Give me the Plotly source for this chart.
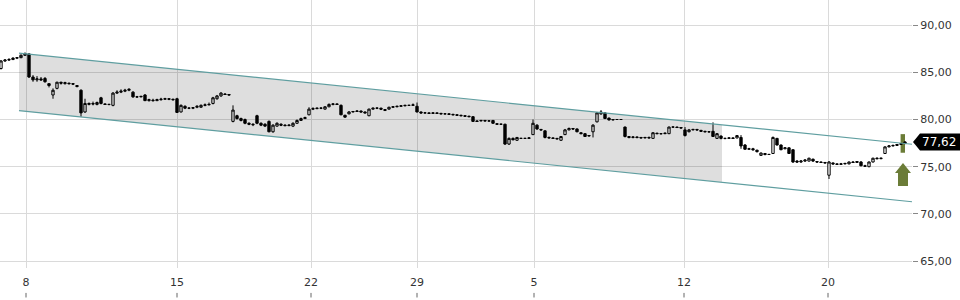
import plotly.graph_objects as go

# ---- candle data (index-based x, one entry per candle) ----
opens = [85.4, 86.2, 86.3, 86.35, 86.5, 86.55, 86.8, 86.95, 84.5, 84.2,
         84.3, 84.35, 83.8, 82.6, 83.3, 83.95, 83.8, 83.85, 83.8, 83.6,
         83.1, 80.8, 81.6, 81.7, 81.6, 82.3, 81.65, 81.6, 81.5, 82.8,
         82.9, 83.0, 83.1, 82.9, 82.4, 82.4, 82.6, 82.0, 82.05, 82.0,
         82.1, 82.15, 82.2, 82.15, 82.2, 80.8, 81.4, 81.2, 81.2, 81.3,
         81.3, 81.5, 81.55, 81.7, 82.2, 82.5, 82.7, 82.65, 79.8, 80.4,
         80.1, 80.0, 79.6, 79.5, 80.4, 79.6, 79.5, 79.8, 78.7, 79.3,
         79.5, 79.4, 79.35, 79.3, 79.6, 79.9, 80.1, 80.5, 81.1, 81.15,
         81.2, 81.1, 81.35, 81.6, 81.65, 81.5, 80.45, 80.6, 80.8, 80.85,
         80.9, 80.8, 80.4, 81.1, 81.2, 81.2, 80.95, 81.1, 81.3, 81.35,
         81.4, 81.45, 81.5, 81.5, 81.4, 80.8, 80.7, 80.7, 80.65, 80.7,
         80.65, 80.6, 80.6, 80.55, 80.5, 80.45, 80.4, 80.35, 80.3, 79.85,
         79.85, 79.9, 79.85, 79.9, 79.55, 79.5, 79.5, 77.4, 78.0, 77.8,
         78.0, 78.0, 78.0, 78.4, 79.4, 78.95, 78.8, 78.1, 78.05, 78.0,
         77.8, 78.4, 78.9, 79.05, 79.0, 78.6, 78.5, 78.25, 78.7, 79.75,
         80.6, 80.7, 80.15, 79.95, 80.0, 80.0, 79.2, 78.2, 78.1, 78.15,
         78.1, 78.05, 78.1, 78.0, 78.55, 78.5, 78.5, 78.5, 79.2, 79.2,
         79.15, 78.9, 78.7, 78.9, 78.95, 78.85, 78.75, 78.7, 78.75, 78.0,
         78.25, 78.0, 78.0, 78.05, 78.05, 78.1, 77.3, 76.85, 76.9, 76.75,
         76.2, 76.4, 76.3, 76.4, 78.0, 77.3, 76.9, 77.0, 76.8, 75.6,
         75.5, 75.6, 75.6, 75.8, 75.55, 75.5, 75.45, 74.1, 75.4, 75.3,
         75.25, 75.3, 75.3, 75.5, 75.45, 75.5, 75.1, 75.0, 75.5, 75.9,
         75.85, 76.4, 77.1, 77.2, 77.25, 77.35, 77.45]
highs = [86.3, 86.4, 86.5, 86.6, 86.6, 86.9, 87.1, 87.0, 84.7, 84.6,
         84.5, 84.5, 83.8, 83.3, 84.0, 84.0, 84.0, 83.9, 83.85, 83.6,
         83.2, 82.2, 81.8, 81.9, 81.9, 82.4, 81.7, 81.65, 82.9, 83.1,
         83.2, 83.25, 83.3, 83.0, 82.5, 82.5, 82.7, 82.2, 82.2, 82.2,
         82.3, 82.3, 82.25, 82.2, 82.3, 81.6, 81.5, 81.3, 81.3, 81.5,
         81.6, 81.7, 81.8, 82.4, 82.6, 82.9, 82.8, 82.7, 81.5, 80.5,
         80.2, 80.1, 79.7, 79.6, 80.5, 79.7, 79.6, 79.9, 79.5, 79.7,
         79.6, 79.5, 79.5, 79.7, 80.0, 80.2, 80.3, 81.3, 81.3, 81.25,
         81.3, 81.4, 81.7, 81.7, 81.7, 81.6, 80.5, 80.9, 80.9, 80.95,
         80.95, 80.85, 81.15, 81.25, 81.3, 81.25, 81.1, 81.35, 81.4, 81.45,
         81.5, 81.55, 81.55, 81.7, 81.8, 80.85, 80.8, 80.75, 80.75, 80.75,
         80.7, 80.65, 80.65, 80.6, 80.55, 80.5, 80.45, 80.4, 80.35, 79.9,
         79.95, 79.95, 79.9, 79.95, 79.6, 79.55, 79.55, 78.1, 78.1, 78.15,
         78.05, 78.05, 78.1, 80.0, 79.5, 79.0, 78.85, 78.2, 78.1, 78.05,
         78.25, 79.0, 79.15, 79.1, 79.05, 78.65, 78.55, 78.35, 79.5, 80.8,
         81.0, 80.75, 80.2, 80.05, 80.05, 80.05, 79.25, 78.25, 78.2, 78.2,
         78.15, 78.15, 78.2, 78.65, 78.6, 78.55, 78.6, 79.25, 79.25, 79.25,
         79.2, 79.2, 79.0, 79.0, 79.0, 78.9, 78.8, 78.75, 79.7, 78.55,
         78.3, 78.05, 78.1, 78.1, 78.35, 78.35, 77.4, 77.0, 77.0, 76.8,
         76.5, 76.45, 76.35, 78.2, 78.05, 77.35, 77.05, 77.05, 76.85, 75.7,
         75.7, 75.8, 75.95, 75.85, 75.6, 75.55, 75.5, 75.6, 75.45, 75.35,
         75.4, 75.4, 75.55, 75.6, 75.6, 75.6, 75.2, 75.55, 75.95, 76.0,
         75.95, 77.15, 77.3, 77.35, 77.4, 77.5, 77.7]
lows = [85.3, 86.1, 86.2, 86.3, 86.4, 86.5, 86.75, 84.4, 84.0, 84.0,
        84.1, 83.9, 83.4, 82.2, 83.2, 83.7, 83.7, 83.7, 83.65, 83.4,
        80.3, 80.7, 81.5, 81.5, 81.5, 81.6, 81.55, 81.5, 81.4, 82.7,
        82.8, 82.9, 83.0, 82.3, 82.3, 82.35, 81.95, 81.9, 81.9, 81.95,
        82.0, 82.1, 82.05, 82.0, 80.7, 80.75, 81.1, 81.1, 81.1, 81.2,
        81.25, 81.4, 81.5, 81.6, 82.1, 82.4, 82.6, 82.55, 79.7, 80.0,
        79.8, 79.5, 79.4, 79.3, 79.5, 79.3, 79.2, 78.65, 78.6, 79.25,
        79.3, 79.3, 79.3, 79.2, 79.55, 79.85, 80.05, 80.45, 81.0, 81.1,
        81.1, 81.05, 81.3, 81.5, 81.55, 80.45, 80.2, 80.55, 80.75, 80.8,
        80.75, 80.65, 80.35, 81.05, 81.1, 81.0, 80.9, 81.05, 81.25, 81.3,
        81.35, 81.4, 81.45, 81.45, 80.75, 80.6, 80.65, 80.6, 80.6, 80.6,
        80.55, 80.55, 80.5, 80.45, 80.4, 80.35, 80.3, 80.25, 79.75, 79.75,
        79.8, 79.8, 79.8, 79.55, 79.45, 79.45, 77.3, 77.3, 77.8, 77.75,
        77.95, 77.95, 77.95, 78.35, 78.9, 78.8, 78.0, 78.0, 77.95, 77.9,
        77.75, 78.35, 78.85, 78.9, 78.65, 78.45, 78.15, 78.2, 78.1, 79.7,
        80.5, 80.05, 79.9, 79.9, 79.95, 79.95, 78.1, 78.0, 78.0, 78.0,
        78.0, 78.0, 78.0, 77.95, 78.45, 78.4, 78.45, 78.45, 79.15, 79.1,
        79.05, 78.2, 78.65, 78.85, 78.8, 78.7, 78.65, 78.6, 78.15, 77.95,
        77.9, 77.9, 77.95, 77.95, 78.0, 76.9, 76.8, 76.8, 76.7, 76.5,
        76.15, 76.2, 76.25, 76.35, 77.25, 76.75, 76.85, 76.35, 75.4, 75.4,
        75.4, 75.5, 75.55, 75.5, 75.4, 75.4, 75.35, 73.7, 75.2, 75.2,
        75.2, 75.25, 75.25, 75.4, 75.4, 75.05, 75.0, 74.95, 75.45, 75.8,
        75.8, 76.35, 77.05, 77.15, 77.2, 77.3, 77.4]
closes = [86.2, 86.3, 86.35, 86.5, 86.55, 86.8, 87.0, 84.5, 84.2, 84.3,
          84.2, 84.0, 83.6, 83.1, 83.95, 83.85, 83.9, 83.8, 83.75, 83.5,
          80.7, 81.7, 81.7, 81.65, 81.8, 81.7, 81.6, 81.6, 82.8, 82.9,
          83.0, 83.1, 83.2, 82.4, 82.4, 82.45, 82.0, 82.1, 82.0, 82.1,
          82.15, 82.2, 82.15, 82.1, 80.75, 81.5, 81.2, 81.2, 81.25, 81.4,
          81.5, 81.55, 81.6, 82.3, 82.5, 82.8, 82.65, 82.6, 81.0, 80.1,
          79.9, 79.6, 79.5, 79.45, 79.6, 79.4, 79.3, 78.7, 79.4, 79.6,
          79.4, 79.35, 79.4, 79.6, 79.9, 80.1, 80.2, 81.1, 81.15, 81.2,
          81.2, 81.35, 81.6, 81.65, 81.6, 80.5, 80.25, 80.8, 80.85, 80.9,
          80.8, 80.7, 81.1, 81.2, 81.2, 81.1, 81.05, 81.3, 81.35, 81.4,
          81.45, 81.5, 81.5, 81.55, 80.8, 80.7, 80.7, 80.65, 80.7, 80.65,
          80.6, 80.6, 80.55, 80.5, 80.45, 80.4, 80.35, 80.3, 79.8, 79.8,
          79.9, 79.85, 79.85, 79.6, 79.5, 79.5, 77.4, 78.0, 77.85, 78.1,
          78.0, 78.0, 78.05, 79.6, 79.0, 78.9, 78.1, 78.05, 78.0, 77.95,
          78.2, 78.9, 79.05, 79.0, 78.7, 78.5, 78.2, 78.3, 79.4, 80.7,
          80.8, 80.1, 79.95, 80.0, 80.0, 80.0, 78.2, 78.1, 78.15, 78.1,
          78.05, 78.1, 78.05, 78.6, 78.5, 78.5, 78.55, 79.2, 79.2, 79.15,
          79.1, 78.3, 78.9, 78.95, 78.9, 78.75, 78.7, 78.7, 78.2, 78.5,
          78.0, 78.0, 78.05, 78.0, 78.3, 77.2, 76.85, 76.9, 76.8, 76.6,
          76.45, 76.3, 76.3, 78.1, 77.3, 76.8, 77.0, 76.4, 75.5, 75.5,
          75.6, 75.7, 75.9, 75.6, 75.5, 75.45, 75.4, 75.5, 75.3, 75.25,
          75.3, 75.35, 75.5, 75.45, 75.55, 75.1, 75.05, 75.5, 75.9, 75.85,
          75.9, 77.1, 77.2, 77.25, 77.35, 77.45, 77.62]

# x-axis tick labels (day of month) and their candle positions
tick_labels = ["8", "15", "22", "29", "5", "12", "20"]
tick_pos = [6.25, 44, 77.5, 104, 133.25, 170.75, 206.75]

# trend channel (start/end positions and values)
chan_x = [4.5, 227.75]
chan_upper = [87.03, 77.38]
chan_lower = [80.94, 71.29]
fill_x = [4.5, 180.25]
fill_upper = [87.03, 79.43]
fill_lower = [80.94, 73.36]

last_price = 77.62
y_ticks = [65, 70, 75, 80, 85, 90]

idx = list(range(len(closes)))
X_RANGE = [-0.25, 227.75]
Y_RANGE = [64.27, 92.66]

fig = go.Figure()

# shaded channel area
fig.add_trace(go.Scatter(
    x=[fill_x[0], fill_x[1], fill_x[1], fill_x[0], fill_x[0]],
    y=[fill_upper[0], fill_upper[1], fill_lower[1], fill_lower[0], fill_upper[0]],
    mode="lines", fill="toself", fillcolor="rgba(0,0,0,0.13)",
    line=dict(width=0), hoverinfo="skip", showlegend=False))

# channel lines
for yy in (chan_upper, chan_lower):
    fig.add_trace(go.Scatter(x=chan_x, y=yy, mode="lines",
                             line=dict(color="#5f9ea0", width=1.2),
                             hoverinfo="skip", showlegend=False))

fig.add_trace(go.Candlestick(
    x=idx, open=opens, high=highs, low=lows, close=closes,
    increasing=dict(line=dict(color="#000000", width=1), fillcolor="#ffffff"),
    decreasing=dict(line=dict(color="#000000", width=1), fillcolor="#000000"),
    whiskerwidth=0, hoverinfo="skip", showlegend=False))

OLIVE = "#6b7c37"
shapes = []
# highlight bar at last candle
shapes.append(dict(type="rect", xref="x", yref="y", x0=224.9, x1=226.0,
                   y0=76.48, y1=78.45, fillcolor=OLIVE, line=dict(width=0),
                   layer="below"))
# up arrow
shapes.append(dict(type="path", xref="x", yref="y",
                   path="M 225.5 75.39 L 227.5 74.33 L 226.75 74.33 L 226.75 72.96 "
                        "L 224.25 72.96 L 224.25 74.33 L 223.5 74.33 Z",
                   fillcolor=OLIVE, line=dict(width=0), layer="above"))
# last price label background (arrow box)
px = 1 / 912.0
yh = 0.9
shapes.append(dict(type="path", xref="paper", yref="y",
                   path=f"M {913*px} {last_price} L {920*px} {last_price+yh} "
                        f"L {960*px} {last_price+yh} L {960*px} {last_price-yh} "
                        f"L {920*px} {last_price-yh} Z",
                   fillcolor="#000000", line=dict(width=0), layer="above"))
# x tick marks below the labels
for tp in tick_pos:
    shapes.append(dict(type="line", xref="x", yref="paper", x0=tp, x1=tp,
                       y0=-0.093, y1=-0.11, line=dict(color="#666666", width=1)))

fig.update_layout(
    width=960, height=300,
    margin=dict(l=0, r=48, t=0, b=32),
    paper_bgcolor="#ffffff", plot_bgcolor="#ffffff",
    separators=",.",
    boxgap=0.42, boxgroupgap=0,
    font=dict(family="DejaVu Sans", size=11, color="#333333"),
    shapes=shapes,
    annotations=[dict(xref="paper", yref="y", x=939 * px, y=last_price,
                      xanchor="center", yanchor="middle",
                      text=f"{last_price:.2f}".replace(".", ","),
                      showarrow=False, font=dict(color="#ffffff", size=12,
                                                 family="DejaVu Sans"))],
    xaxis=dict(range=X_RANGE, tickvals=tick_pos, ticktext=tick_labels,
               showgrid=True, gridcolor="#dadada", gridwidth=1,
               zeroline=False, showline=False, ticks="",
               ticklabelstandoff=6, rangeslider=dict(visible=False),
               fixedrange=True),
    yaxis=dict(range=Y_RANGE, side="right", tickvals=y_ticks,
               tickformat=".2f", showgrid=True, gridcolor="#dadada",
               gridwidth=1, zeroline=False, showline=False,
               ticks="outside", ticklen=5, tickcolor="#888888",
               fixedrange=True),
    hovermode=False,
)

fig.write_html("out.html")
